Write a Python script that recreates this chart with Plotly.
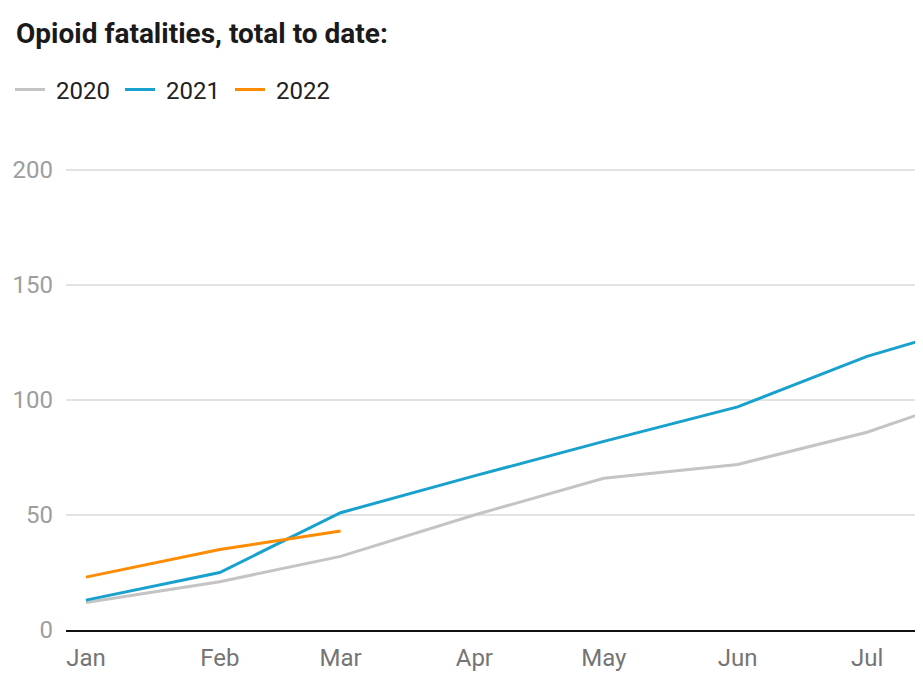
import plotly.graph_objects as go

months = ["2021-01-01", "2021-02-01", "2021-03-01", "2021-04-01",
          "2021-05-01", "2021-06-01", "2021-07-01", "2021-08-01"]
y2020 = [12, 21, 32, 50, 66, 72, 86, 106]
y2021 = [13, 25, 51, 67, 82, 97, 119, 136]
y2022 = [23, 35, 43]

series = [("2020", y2020, "#c4c4c4"), ("2021", y2021, "#18a1cd"), ("2022", y2022, "#ff8c00")]

fig = go.Figure()
for name, vals, col in series:
    fig.add_trace(go.Scatter(x=months[:len(vals)], y=vals, name="\u00a0" + name, mode="lines",
                             line=dict(color=col, width=3)))

W, H = 915, 676
fig.update_layout(
    width=W, height=H,
    paper_bgcolor="white", plot_bgcolor="white",
    margin=dict(l=58, r=0, t=116, b=54),
    font=dict(family="Roboto", size=24, color="#222222"),
    title=dict(text="<b>Opioid fatalities, total to date:</b>", x=8 / W, xref="container",
               xanchor="left", y=1 - 25 / H, yref="container", yanchor="middle",
               font=dict(size=28, color="#1a1a1a", family="Roboto")),
    legend=dict(orientation="h", x=2 / W, xref="container", xanchor="left",
                y=1 - 82 / H, yref="container", yanchor="middle",
                font=dict(size=24, color="#222222"), itemwidth=30,
                entrywidth=65, entrywidthmode="pixels",
                bgcolor="rgba(0,0,0,0)"),
    showlegend=True,
)
fig.update_xaxes(type="date", range=["2020-12-27 09:00", "2021-07-13 23:00"],
                 tickformat="%b", dtick="M1", tick0="2021-01-01",
                 showgrid=False, showline=True, linecolor="#111111", linewidth=2,
                 ticks="", ticklabelstandoff=5, tickfont=dict(size=24, color="#757575"),
                 zeroline=False, fixedrange=True)
fig.update_yaxes(range=[0, 220], tickvals=[0, 50, 100, 150, 200], showgrid=True,
                 gridcolor="#e3e3e3", gridwidth=1.5, zeroline=False, showline=False,
                 ticks="", ticklabelstandoff=12, tickfont=dict(size=24, color="#9e9e9e"),
                 fixedrange=True)
fig.write_html("out.html")
